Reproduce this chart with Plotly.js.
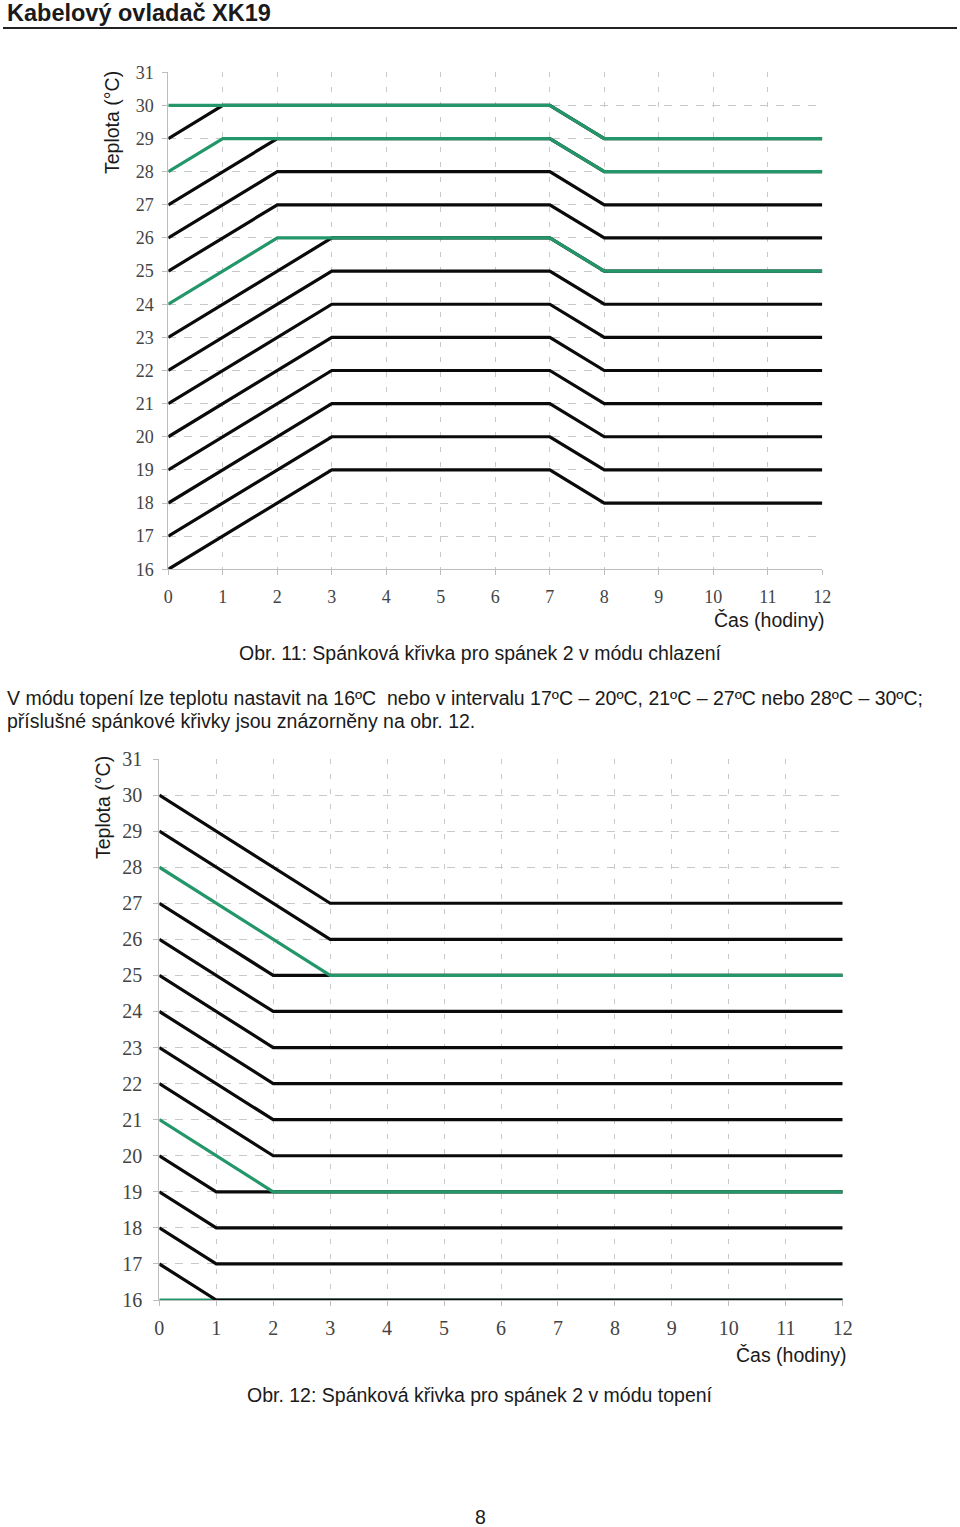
<!DOCTYPE html>
<html>
<head>
<meta charset="utf-8">
<script src="https://cdn.plot.ly/plotly-3.0.1.min.js"></script>
<style>
  html, body { margin: 0; padding: 0; background: #ffffff; }
  #chart { width: 960px; height: 1527px; }
</style>
</head>
<body>
<div id="chart"></div>
<script>
// ---------- DATA ----------
// Tick labels
const hourTicks = [0,1,2,3,4,5,6,7,8,9,10,11,12];
const tempTicks = [16,17,18,19,20,21,22,23,24,25,26,27,28,29,30,31];

// Obr. 11 – cooling mode (chlazení): time breakpoints and temperatures
const coolX_rise3 = [0, 3, 7, 8, 12];
const coolX_rise2 = [0, 2, 7, 8, 12];
const coolX_rise1 = [0, 1, 7, 8, 12];
const coolX_flat  = [0, 7, 8, 12];

const cool16 = [16, 19, 19, 18, 18];
const cool17 = [17, 20, 20, 19, 19];
const cool18 = [18, 21, 21, 20, 20];
const cool19 = [19, 22, 22, 21, 21];
const cool20 = [20, 23, 23, 22, 22];
const cool21 = [21, 24, 24, 23, 23];
const cool22 = [22, 25, 25, 24, 24];
const cool23 = [23, 26, 26, 25, 25];
const cool24 = [24, 26, 26, 25, 25];   // highlighted (green)
const cool25 = [25, 27, 27, 26, 26];
const cool26 = [26, 28, 28, 27, 27];
const cool27 = [27, 29, 29, 28, 28];
const cool28 = [28, 29, 29, 28, 28];   // highlighted (green)
const cool29 = [29, 30, 30, 29, 29];
const cool30 = [30, 30, 29, 29];       // highlighted (green)

// Obr. 12 – heating mode (topení)
const heatX_fall0 = [0, 12];
const heatX_fall1 = [0, 1, 12];
const heatX_fall2 = [0, 2, 12];
const heatX_fall3 = [0, 3, 12];

const heat16 = [16, 16];               // highlighted (green)
const heat17 = [17, 16, 16];
const heat18 = [18, 17, 17];
const heat19 = [19, 18, 18];
const heat20 = [20, 19, 19];
const heat21 = [21, 19, 19];           // highlighted (green)
const heat22 = [22, 20, 20];
const heat23 = [23, 21, 21];
const heat24 = [24, 22, 22];
const heat25 = [25, 23, 23];
const heat26 = [26, 24, 24];
const heat27 = [27, 25, 25];
const heat28 = [28, 25, 25];           // highlighted (green)
const heat29 = [29, 26, 26];
const heat30 = [30, 27, 27];

// ---------- STYLE ----------
const W = 960, H = 1527;
const px = x => x / W;
const py = y => 1 - y / H;
const BLACK = '#0a0a0a';
const GREEN = '#23966a';
const LW = 3.2;

function line(x, y, color, axis) {
  return {
    type: 'scatter', mode: 'lines', x: x, y: y,
    xaxis: axis === 2 ? 'x2' : 'x', yaxis: axis === 2 ? 'y2' : 'y',
    line: { color: color, width: LW, shape: 'linear' },
    cliponaxis: false, hoverinfo: 'skip', showlegend: false
  };
}

const traces = [
  // cooling – black first, green on top
  line(coolX_rise3, cool16, BLACK, 1),
  line(coolX_rise3, cool17, BLACK, 1),
  line(coolX_rise3, cool18, BLACK, 1),
  line(coolX_rise3, cool19, BLACK, 1),
  line(coolX_rise3, cool20, BLACK, 1),
  line(coolX_rise3, cool21, BLACK, 1),
  line(coolX_rise3, cool22, BLACK, 1),
  line(coolX_rise3, cool23, BLACK, 1),
  line(coolX_rise2, cool25, BLACK, 1),
  line(coolX_rise2, cool26, BLACK, 1),
  line(coolX_rise2, cool27, BLACK, 1),
  line(coolX_rise1, cool29, BLACK, 1),
  line(coolX_rise2, cool24, GREEN, 1),
  line(coolX_rise1, cool28, GREEN, 1),
  line(coolX_flat,  cool30, GREEN, 1),
  // heating
  line(heatX_fall0, heat16, GREEN, 2),
  line(heatX_fall1, heat17, BLACK, 2),
  line(heatX_fall1, heat18, BLACK, 2),
  line(heatX_fall1, heat19, BLACK, 2),
  line(heatX_fall1, heat20, BLACK, 2),
  line(heatX_fall2, heat22, BLACK, 2),
  line(heatX_fall2, heat23, BLACK, 2),
  line(heatX_fall2, heat24, BLACK, 2),
  line(heatX_fall2, heat25, BLACK, 2),
  line(heatX_fall2, heat26, BLACK, 2),
  line(heatX_fall2, heat27, BLACK, 2),
  line(heatX_fall3, heat29, BLACK, 2),
  line(heatX_fall3, heat30, BLACK, 2),
  line(heatX_fall2, heat21, GREEN, 2),
  line(heatX_fall3, heat28, GREEN, 2)
];

const tickFont1 = { family: 'Liberation Serif, DejaVu Serif, serif', size: 18, color: '#444' };
const tickFont2 = { family: 'Liberation Serif, DejaVu Serif, serif', size: 20, color: '#444' };
const GRID = '#c8c8c8';

function xAxis(domain, anchor, font, standoff) {
  return {
    domain: domain, anchor: anchor, range: [0, 12], fixedrange: true,
    tickmode: 'array', tickvals: hourTicks, ticktext: hourTicks.map(String),
    tickfont: font, ticks: 'outside', ticklen: 5, tickcolor: '#bdbdbd',
    ticklabelstandoff: standoff,
    showgrid: true, gridcolor: GRID, griddash: '5px,10px', gridwidth: 1,
    showline: true, linecolor: '#bdbdbd', linewidth: 1, zeroline: false
  };
}
function yAxis(domain, anchor, font, standoff) {
  return {
    domain: domain, anchor: anchor, range: [16, 31], fixedrange: true,
    tickmode: 'array', tickvals: tempTicks, ticktext: tempTicks.map(String),
    tickfont: font, ticks: 'outside', ticklen: 5, tickcolor: '#bdbdbd',
    ticklabelstandoff: standoff,
    showgrid: true, gridcolor: GRID, griddash: '8px,8px', gridwidth: 1,
    showline: true, linecolor: '#bdbdbd', linewidth: 1, zeroline: false
  };
}

const sans = 'Liberation Sans, Arial, sans-serif';
function ann(text, x, y, opts) {
  return Object.assign({
    text: text, x: px(x), y: py(y), xref: 'paper', yref: 'paper',
    showarrow: false, xanchor: 'center', yanchor: 'middle',
    font: { family: sans, size: 19.5, color: '#1a1a1a' }
  }, opts || {});
}

const annotations = [
  ann('<b>Kabelový ovladač XK19</b>', 5, 13, { xanchor: 'left', font: { family: sans, size: 23.5, color: '#1a1a1a' } }),
  ann('Teplota (°C)', 112, 123, { textangle: -90 }),
  ann('Čas (hodiny)', 827, 620, { xanchor: 'right' }),
  ann('Obr. 11: Spánková křivka pro spánek 2 v módu chlazení', 480, 653),
  ann('V módu topení lze teplotu nastavit na 16ºC  nebo v intervalu 17ºC – 20ºC, 21ºC – 27ºC nebo 28ºC – 30ºC;', 5, 698, { xanchor: 'left' }),
  ann('příslušné spánkové křivky jsou znázorněny na obr. 12.', 5, 721, { xanchor: 'left' }),
  ann('Teplota (°C)', 103, 808, { textangle: -90 }),
  ann('Čas (hodiny)', 849, 1355, { xanchor: 'right' }),
  ann('Obr. 12: Spánková křivka pro spánek 2 v módu topení', 480, 1395),
  ann('8', 480, 1517)
];

const layout = {
  width: W, height: H,
  margin: { l: 0, r: 0, t: 0, b: 0, pad: 0 },
  paper_bgcolor: '#ffffff', plot_bgcolor: '#ffffff',
  showlegend: false,
  xaxis: xAxis([px(168.3), px(822.3)], 'y', tickFont1, 6),
  yaxis: yAxis([py(569.3), py(72.3)], 'x', tickFont1, 5),
  xaxis2: xAxis([px(159.3), px(842.7)], 'y2', tickFont2, 5),
  yaxis2: yAxis([py(1300), py(759)], 'x2', tickFont2, 7),
  annotations: annotations,
  shapes: [
    { type: 'line', xref: 'paper', yref: 'paper', x0: px(3), x1: px(957), y0: py(28), y1: py(28),
      line: { color: '#222', width: 2 } }
  ]
};

Plotly.newPlot('chart', traces, layout, { staticPlot: true, displayModeBar: false });
</script>
</body>
</html>
